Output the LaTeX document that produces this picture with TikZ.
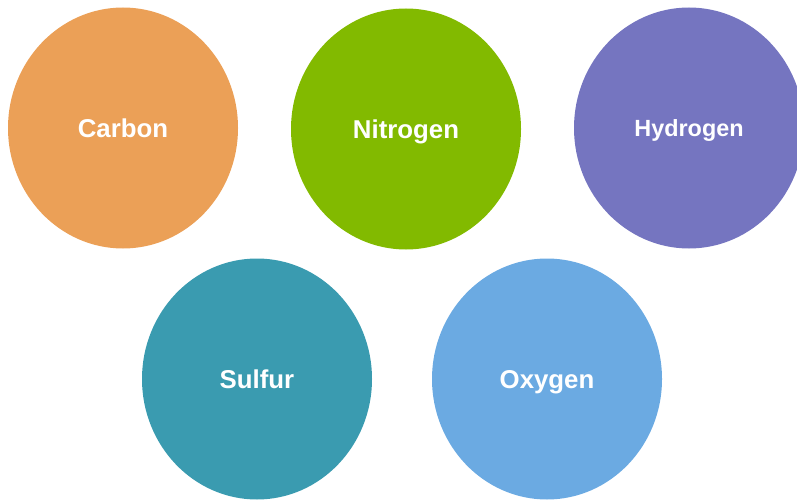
\documentclass[tikz,border=0pt]{standalone}
\usepackage{fontspec}
\setmainfont{Liberation Sans}
\usetikzlibrary{shapes.geometric}
\definecolor{carboncol}{HTML}{EBA057}
\definecolor{nitrocol}{HTML}{82BA00}
\definecolor{hydrocol}{HTML}{7575C0}
\definecolor{sulfcol}{HTML}{3A9BB0}
\definecolor{oxycol}{HTML}{6BAAE2}
\tikzset{
    atom/.style={ellipse, minimum width=230pt, minimum height=241pt, inner sep=0pt,
        text=white, text height=18.5pt, text depth=0pt,
        font=\fontsize{25.8}{28}\selectfont\bfseries}
}
\begin{document}
\begin{tikzpicture}[x=1pt, y=-1pt]
        \useasboundingbox (0,0) rectangle (797,500);

        \node[atom, fill=carboncol] (carbon) at (123,128) {Carbon};
        \node[atom, fill=nitrocol] (nitrogen) at (406,129) {Nitrogen};
        \node[atom, fill=hydrocol, text height=16.8pt,
            font=\fontsize{23.4}{26}\selectfont\bfseries] (hydrogen) at (689,128) {Hydrogen};
        \node[atom, fill=sulfcol] (sulfur) at (257,379) {Sulfur};
        \node[atom, fill=oxycol] (oxygen) at (547,379) {Oxygen};
    \end{tikzpicture}
\end{document}
